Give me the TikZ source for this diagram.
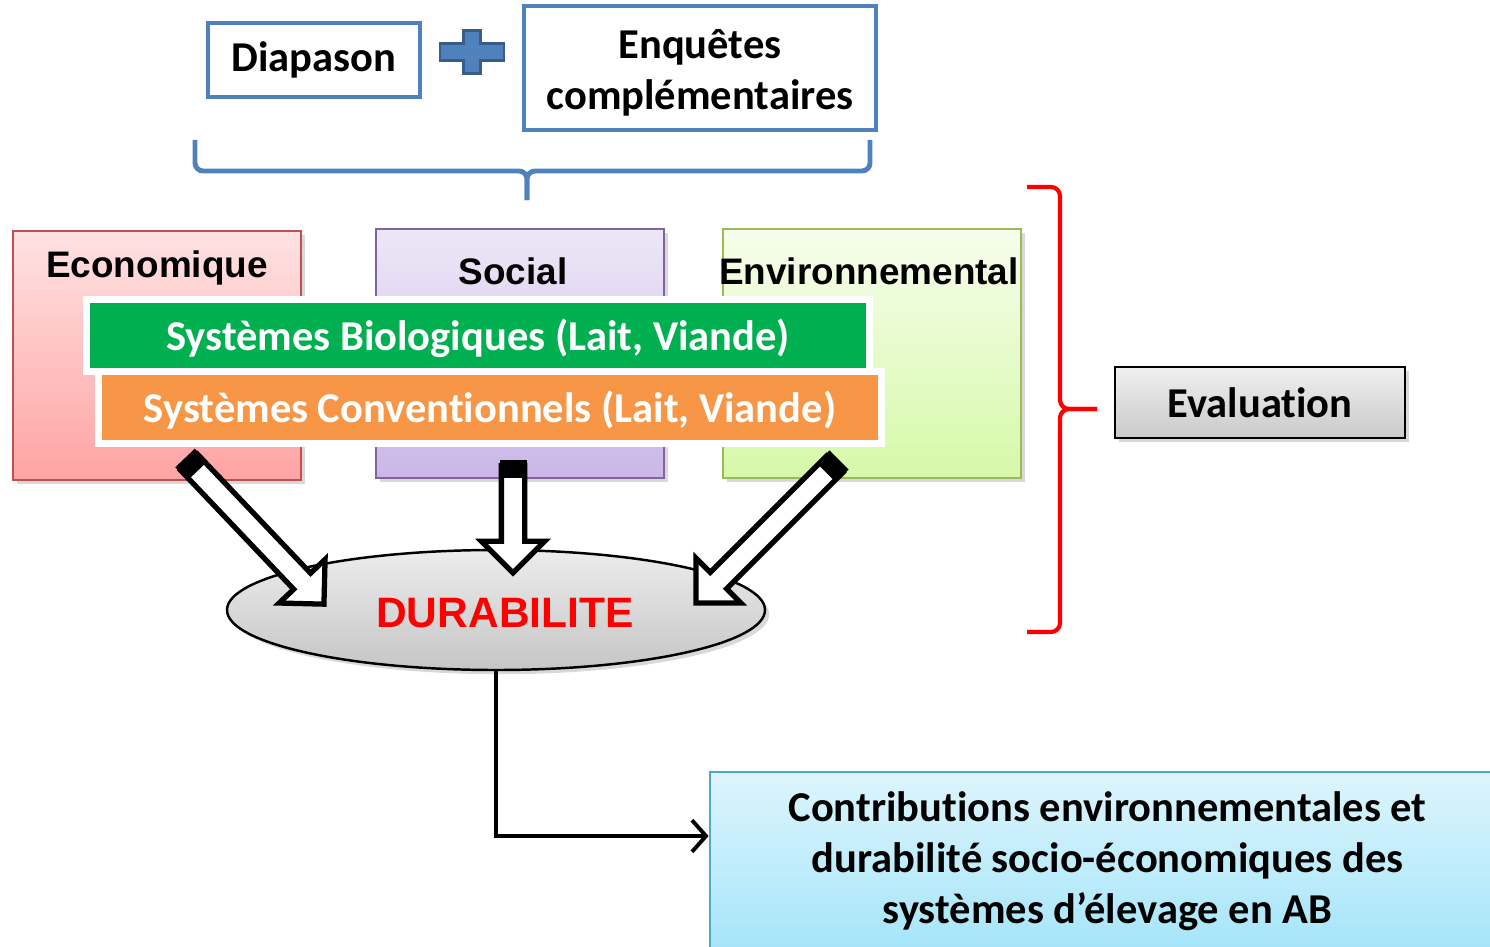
\documentclass[tikz,border=0pt]{standalone}
\usepackage{fontspec}
\setmainfont{Carlito}[Ligatures=NoCommon]
\newfontfamily\arialfont{Liberation Sans}
\usetikzlibrary{shapes.geometric,shapes.arrows,shadows,calc,arrows.meta}
\definecolor{ppblue}{HTML}{4F81BD}
\definecolor{ppbluedark}{HTML}{385D8A}
\definecolor{ecoline}{HTML}{C0504D}
\definecolor{ecotop}{RGB}{255,226,226}
\definecolor{ecobot}{RGB}{255,163,163}
\definecolor{socline}{HTML}{8064A2}
\definecolor{soctop}{RGB}{237,231,247}
\definecolor{socbot}{RGB}{202,183,230}
\definecolor{envline}{HTML}{9BBB59}
\definecolor{envtop}{RGB}{246,253,236}
\definecolor{envbot}{RGB}{214,249,168}
\definecolor{biogreen}{HTML}{00B050}
\definecolor{convorange}{HTML}{F79646}
\definecolor{resline}{HTML}{4BACC6}
\definecolor{restop}{RGB}{221,245,252}
\definecolor{resbot}{RGB}{165,229,249}

\begin{document}
\begin{tikzpicture}[
  inbox/.style={draw=ppblue, line width=1.1pt, fill=white, align=center,
    font=\fontsize{12.1}{14.5}\selectfont\bfseries},
  pillar/.style={line width=0.7pt, minimum height=2.49cm,
    drop shadow={opacity=0.3, shadow xshift=1.2pt, shadow yshift=-1.2pt}},
  pillartext/.style={font=\arialfont\fontsize{10.5}{12}\selectfont\bfseries},
  bar/.style={draw=white, line width=2pt, minimum width=7.83cm, minimum height=0.72cm,
    text=white, font=\fontsize{12.1}{14}\selectfont\bfseries,
    text height=11pt, text depth=2.3pt,
    drop shadow={opacity=0.3, shadow xshift=1pt, shadow yshift=-1pt}},
  blockarrow/.style={single arrow, draw, fill=white, line width=1.5pt,
    inner xsep=0pt, inner ysep=0.09cm,
    minimum width=0.62cm, single arrow head extend=0.2cm, single arrow tip angle=90},
  bluebrace/.style={draw=ppblue, line width=1.4pt, rounded corners=0.08cm},
  redbrace/.style={draw=red, line width=1.2pt, rounded corners=0.09cm},
  flow/.style={line width=1.1pt, -{Straight Barb[length=4pt,width=9pt]}}
]
\useasboundingbox (0,0) rectangle (14.9,9.46);

% sources
\node[inbox, minimum width=2.12cm, minimum height=0.74cm] (diap) at (3.14,8.86) {Diapason};
\node[inbox, minimum width=3.52cm, minimum height=1.24cm] (enq) at (7.00,8.78) {};
\node[align=center, font=\fontsize{12.1}{14.5}\selectfont\bfseries] (enqT) at (7.00,8.735) {Enquêtes\\complémentaires};
\begin{scope}[shift={(4.72,8.94)}]
  \filldraw[fill=ppblue, draw=ppbluedark, line width=0.8pt]
    (-0.32,0.085) -- (-0.085,0.085) -- (-0.085,0.215) -- (0.085,0.215) -- (0.085,0.085)
    -- (0.32,0.085) -- (0.32,-0.085) -- (0.085,-0.085) -- (0.085,-0.215) -- (-0.085,-0.215)
    -- (-0.085,-0.085) -- (-0.32,-0.085) -- cycle;
\end{scope}
\coordinate (bl) at (1.95,8.06);
\coordinate (br) at (8.70,8.06);
\coordinate (bm) at (5.27,7.75);
\coordinate (btip) at (5.27,7.46);
\draw[bluebrace] (bl) |- (bm) -- (btip);
\draw[bluebrace] (br) |- (bm) -- (btip);

% three pillars
\node[pillar, draw=ecoline, top color=ecotop, bottom color=ecobot, minimum width=2.88cm] (eco) at (1.57,5.905) {};
\node[pillar, draw=socline, top color=soctop, bottom color=socbot, minimum width=2.88cm] (soc) at (5.20,5.925) {};
\node[pillar, draw=envline, top color=envtop, bottom color=envbot, minimum width=2.98cm] (env) at (8.72,5.925) {};
\node[pillartext] (ecoT) at (1.57,6.78) {Economique};
\node[pillartext] (socT) at (5.13,6.75) {Social};
\node[pillartext] (envT) at (8.69,6.75) {Environnemental};

% systems
\node[bar, fill=biogreen] (bio) at (4.78,6.105) {Systèmes Biologiques (Lait, Viande)};
\node[bar, fill=convorange] (conv) at (4.90,5.385) {Systèmes Conventionnels (Lait, Viande)};

% sustainability
\node[ellipse, draw, line width=0.7pt, top color=gray!15, bottom color=gray!45,
  minimum width=5.38cm, minimum height=1.20cm, inner sep=0pt,
  drop shadow={opacity=0.3, shadow xshift=1.2pt, shadow yshift=-1.2pt}] (dur) at (4.96,3.36) {};
\node[text=red, font=\arialfont\fontsize{12.1}{14}\selectfont\bfseries] (durT) at (5.05,3.33) {DURABILITE};

\coordinate (tE) at (1.85,4.88);
\coordinate (hE) at (3.20,3.46);
\coordinate (tS) at (5.13,4.86);
\coordinate (hS) at (5.13,3.79);
\coordinate (tV) at (8.39,4.86);
\coordinate (hV) at (7.00,3.47);
\foreach \t/\h in {tE/hE, tS/hS, tV/hV}{
  \path let \p1=($(\h)-(\t)$), \n1={atan2(\y1,\x1)}, \n2={veclen(\x1,\y1)} in
    node[blockarrow, rotate=\n1, minimum height=\n2] (arr\t) at ($(\t)!0.5!(\h)$) {};
  \draw[line width=0.27cm] (\t) -- ($(\t)!0.18cm!(\h)$);
}

% evaluation
\coordinate (rt) at (10.27,7.59);
\coordinate (rb) at (10.27,3.14);
\coordinate (rm) at (10.60,5.37);
\coordinate (rtip) at (10.97,5.37);
\draw[redbrace] (rt) -| (rm) -- (rtip);
\draw[redbrace] (rb) -| (rm) -- (rtip);
\node[draw, line width=0.8pt, top color=gray!12, bottom color=gray!42,
  minimum width=2.90cm, minimum height=0.71cm,
  drop shadow={opacity=0.3, shadow xshift=1.2pt, shadow yshift=-1.2pt},
  font=\fontsize{12.1}{14}\selectfont\bfseries] (eval) at (12.60,5.435) {Evaluation};

% result
\node[draw=resline, line width=0.8pt, top color=restop, bottom color=resbot,
  minimum width=7.95cm, minimum height=1.78cm, align=center,
  font=\fontsize{12.1}{14.6}\selectfont\bfseries] (contrib) at (11.075,0.85)
  {Contributions environnementales et\\durabilité socio-économiques des\\systèmes d’élevage en AB};
\draw[flow] (dur.south) |- ([yshift=0.25cm]contrib.west);
\end{tikzpicture}
\end{document}
